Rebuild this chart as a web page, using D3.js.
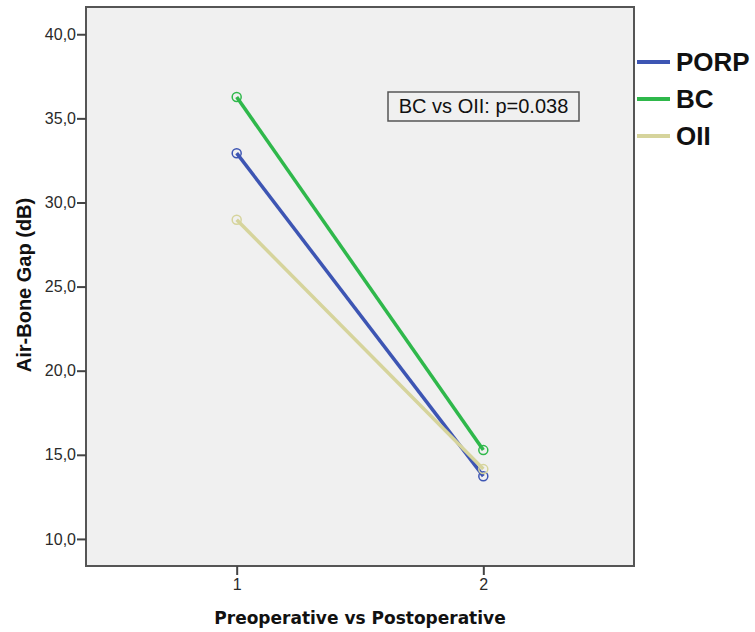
<!DOCTYPE html>
<html>
<head>
<meta charset="utf-8">
<script src="https://cdn.jsdelivr.net/npm/d3@7"></script>
<style>
  body { margin: 0; background: #fff; }
  .axis text { font-family: Arial, "Liberation Sans", sans-serif; font-size: 16px; fill: #2a2a2a; }
  .axis path, .axis line { stroke: #444; stroke-width: 2; }
</style>
</head>
<body>
<div id="chart"></div>
<script>
// data
var timepoints = [1, 2];
var groups = ["PORP", "BC", "OII"];
var porpValues = [32.93, 13.73];
var bcValues = [36.27, 15.28];
var oiiValues = [28.97, 14.15];
var groupColors = ["#3d55b3", "#2fb84b", "#d6d49c"];
var yTicks = [10, 15, 20, 25, 30, 35, 40];
var annotation = "BC vs OII: p=0.038";

function drawChart() {
    var series = [
        { name: groups[0], values: porpValues, color: groupColors[0] },
        { name: groups[1], values: bcValues, color: groupColors[1] },
        { name: groups[2], values: oiiValues, color: groupColors[2] }
    ];

    var w = 755, h = 632;
    var padLeft = 86, padRight = 634, padTop = 7, padBottom = 566;

    var svg = d3.select("#chart").append("svg")
        .attr("width", w)
        .attr("height", h);

    /* SCALES */
    var xScale = d3.scaleLinear()
        .domain([0.389, 2.611])
        .range([padLeft, padRight]);

    var yScale = d3.scaleLinear()
        .domain([8.39, 41.62])
        .range([padBottom, padTop]);

    /* PLOT BACKGROUND */
    svg.append("rect")
        .attr("x", padLeft)
        .attr("y", padTop)
        .attr("width", padRight - padLeft)
        .attr("height", padBottom - padTop)
        .attr("fill", "#f0f0f0")
        .attr("stroke", "#555")
        .attr("stroke-width", 2);

    /* AXES */
    var yAxis = d3.axisLeft(yScale)
        .tickValues(yTicks)
        .tickSize(9)
        .tickPadding(1)
        .tickFormat(d => d3.format(".1f")(d).replace(".", ","));

    svg.append("g")
        .attr("class", "axis")
        .attr("transform", "translate(" + padLeft + ",0)")
        .call(yAxis)
        .call(g => g.select(".domain").remove());

    var xAxis = d3.axisBottom(xScale)
        .tickValues(timepoints)
        .tickSize(9)
        .tickPadding(4)
        .tickFormat(d3.format("d"));

    svg.append("g")
        .attr("class", "axis")
        .attr("transform", "translate(0," + padBottom + ")")
        .call(xAxis)
        .call(g => g.select(".domain").remove());

    /* LINES AND POINTS */
    var line = d3.line()
        .x((d, i) => xScale(timepoints[i]))
        .y(d => yScale(d));

    var groupsG = svg.selectAll(".series")
        .data(series)
        .enter()
        .append("g")
        .attr("class", "series");

    groupsG.append("path")
        .attr("d", d => line(d.values))
        .attr("fill", "none")
        .attr("stroke", d => d.color)
        .attr("stroke-width", 3.5);

    groupsG.selectAll("circle")
        .data(d => d.values.map((v, i) => ({ v: v, i: i, color: d.color })))
        .enter()
        .append("circle")
        .attr("cx", d => xScale(timepoints[d.i]))
        .attr("cy", d => yScale(d.v))
        .attr("r", 4.5)
        .attr("fill", "none")
        .attr("stroke", d => d.color)
        .attr("stroke-width", 1.5);

    /* ANNOTATION BOX */
    svg.append("rect")
        .attr("x", 388)
        .attr("y", 92)
        .attr("width", 191)
        .attr("height", 29)
        .attr("fill", "#f0f0f0")
        .attr("stroke", "#555")
        .attr("stroke-width", 1.5);

    svg.append("text")
        .attr("x", 483.5)
        .attr("y", 113)
        .style("text-anchor", "middle")
        .style("font-family", "Arial, 'Liberation Sans', sans-serif")
        .style("font-size", "20px")
        .style("fill", "#111")
        .text(annotation);

    /* LEGEND */
    var legend = svg.selectAll(".legend")
        .data(series)
        .enter()
        .append("g")
        .attr("class", "legend")
        .attr("transform", (d, i) => "translate(637," + (62 + i * 37) + ")");

    legend.append("line")
        .attr("x1", 0)
        .attr("x2", 33)
        .attr("stroke", d => d.color)
        .attr("stroke-width", 4);

    legend.append("text")
        .attr("x", 39)
        .attr("y", 9)
        .style("font-family", "Arial, 'Liberation Sans', sans-serif")
        .style("font-weight", "bold")
        .style("font-size", "26px")
        .style("fill", "#111")
        .text(d => d.name);

    /* AXIS TITLES */
    svg.append("text")
        .attr("transform", "translate(31,285) rotate(-90)")
        .style("text-anchor", "middle")
        .style("font-family", "Arial, 'Liberation Sans', sans-serif")
        .style("font-weight", "bold")
        .style("font-size", "20px")
        .style("fill", "#111")
        .text("Air-Bone Gap (dB)");

    svg.append("text")
        .attr("x", 360)
        .attr("y", 624)
        .style("text-anchor", "middle")
        .style("font-family", "'DejaVu Sans', sans-serif")
        .style("font-weight", "bold")
        .style("font-size", "17px")
        .style("fill", "#111")
        .text("Preoperative vs Postoperative");
}

drawChart();
</script>
</body>
</html>
